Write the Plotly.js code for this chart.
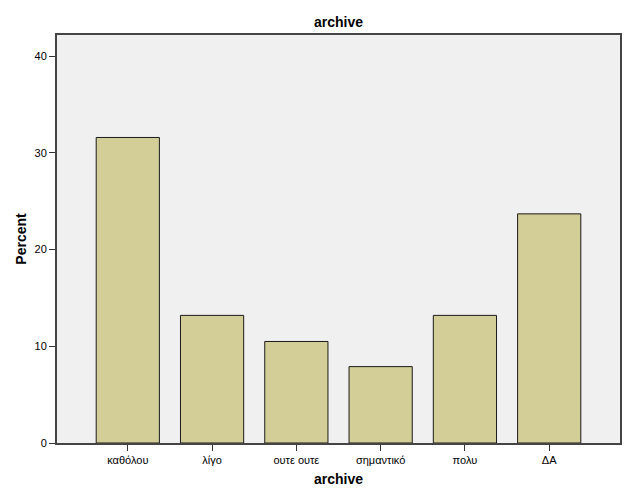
<!DOCTYPE html>
<html>
<head>
<meta charset="utf-8">
<script src="https://cdn.plot.ly/plotly-3.0.1.min.js"></script>
<style>html,body{margin:0;padding:0;background:#fff;}</style>
</head>
<body>
<div id="chart" style="width:627px;height:502px;"></div>
<script>
const categories = ["καθόλου", "λίγο", "ουτε ουτε", "σημαντικό", "πολυ", "ΔΑ"];
const percentValues = [31.6, 13.2, 10.5, 7.9, 13.2, 23.7];
const yTicks = [0, 10, 20, 30, 40];

const trace = {
  type: "bar",
  x: categories,
  y: percentValues,
  width: 0.75,
  marker: { color: "#D3CE97", line: { color: "#1a1a1a", width: 1 } },
  hoverinfo: "x+y"
};

const layout = {
  width: 627, height: 502,
  margin: { l: 57, r: 7, t: 35, b: 59 },
  paper_bgcolor: "#ffffff",
  plot_bgcolor: "#F0F0F0",
  font: { family: "Liberation Sans, Arial, sans-serif", size: 11, color: "#000" },
  title: { text: "<b>archive</b>", x: 0.54, xanchor: "center", y: 0.955, yanchor: "middle",
           font: { size: 14, family: "Liberation Sans, Arial, sans-serif", color: "#000" } },
  xaxis: {
    title: { text: "<b>archive</b>", font: { size: 14 }, standoff: 9 },
    range: [-0.84, 5.84],
    showline: true, linecolor: "#444", linewidth: 2, mirror: true,
    ticks: "outside", ticklen: 6, tickcolor: "#333", tickwidth: 1,
    showgrid: false, zeroline: false,
    tickfont: { size: 11 }
  },
  yaxis: {
    title: { text: "<b>Percent</b>", font: { size: 14 }, standoff: 5 },
    range: [0, 42.2],
    tickvals: yTicks,
    showline: true, linecolor: "#444", linewidth: 2, mirror: true,
    ticks: "outside", ticklen: 6, tickcolor: "#333", tickwidth: 1,
    showgrid: false, zeroline: false,
    tickfont: { size: 11 }
  },
  bargap: 0.25,
  showlegend: false
};

Plotly.newPlot("chart", [trace], layout, { displayModeBar: false, staticPlot: true });
</script>
</body>
</html>
